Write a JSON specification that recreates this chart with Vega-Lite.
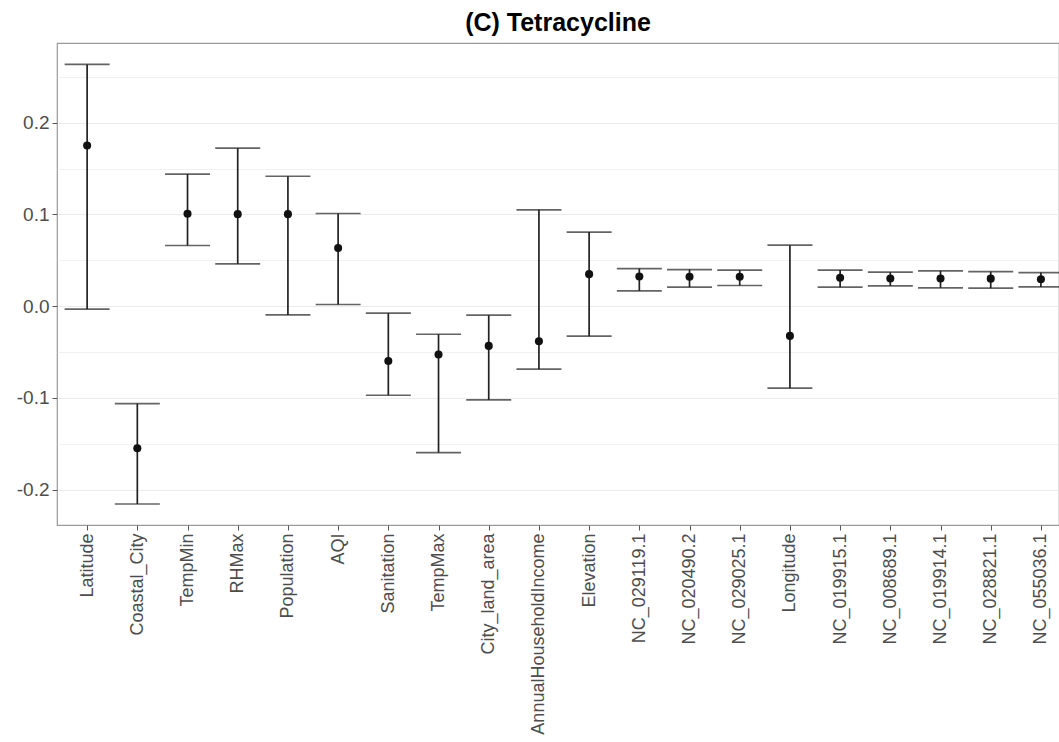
{
  "$schema": "https://vega.github.io/schema/vega-lite/v6.json",
  "autosize": {"type": "none"},
  "padding": {"left": 57, "top": 43, "right": 0, "bottom": 217},
  "width": 1002,
  "height": 482,
  "background": "white",
  "title": {
    "text": "(C) Tetracycline",
    "font": "Liberation Sans",
    "fontSize": 25,
    "fontWeight": "bold",
    "color": "#000000",
    "anchor": "middle",
    "offset": 7
  },
  "config": {
    "view": {"stroke": "#9a9a9a", "strokeWidth": 1.2},
    "axis": {
      "labelFont": "Liberation Sans",
      "labelFontSize": 19,
      "labelColor": "#4d4d4d",
      "labelLimit": 0,
      "tickColor": "#555555",
      "tickSize": 5,
      "domain": false,
      "title": null
    }
  },
  "data": {
    "values": [
      {"var": "Latitude", "est": 0.1751, "lo": -0.0033, "hi": 0.2635},
      {"var": "Coastal_City", "est": -0.1549, "lo": -0.2156, "hi": -0.1062},
      {"var": "TempMin", "est": 0.1007, "lo": 0.0661, "hi": 0.144},
      {"var": "RHMax", "est": 0.1003, "lo": 0.0461, "hi": 0.1723},
      {"var": "Population", "est": 0.1003, "lo": -0.0095, "hi": 0.1416},
      {"var": "AQI", "est": 0.0633, "lo": 0.0018, "hi": 0.101},
      {"var": "Sanitation", "est": -0.0597, "lo": -0.0971, "hi": -0.0076},
      {"var": "TempMax", "est": -0.0527, "lo": -0.1596, "hi": -0.0306},
      {"var": "City_land_area", "est": -0.0433, "lo": -0.1022, "hi": -0.0098},
      {"var": "AnnualHouseholdIncome", "est": -0.0382, "lo": -0.0687, "hi": 0.105},
      {"var": "Elevation", "est": 0.0349, "lo": -0.0327, "hi": 0.0807},
      {"var": "NC_029119.1", "est": 0.0323, "lo": 0.0167, "hi": 0.041},
      {"var": "NC_020490.2", "est": 0.032, "lo": 0.0207, "hi": 0.0399},
      {"var": "NC_029025.1", "est": 0.032, "lo": 0.0225, "hi": 0.0393},
      {"var": "Longitude", "est": -0.0324, "lo": -0.0894, "hi": 0.0665},
      {"var": "NC_019915.1", "est": 0.0309, "lo": 0.0207, "hi": 0.0393},
      {"var": "NC_008689.1", "est": 0.0301, "lo": 0.0221, "hi": 0.0371},
      {"var": "NC_019914.1", "est": 0.0301, "lo": 0.02, "hi": 0.0385},
      {"var": "NC_028821.1", "est": 0.03, "lo": 0.0196, "hi": 0.0377},
      {"var": "NC_055036.1", "est": 0.0294, "lo": 0.021, "hi": 0.0366}
    ]
  },
  "encoding": {
    "x": {
      "field": "var",
      "type": "nominal",
      "sort": null,
      "scale": {"type": "point", "padding": 0.48, "align": 0.625},
      "axis": {"labelAngle": -90, "labelPadding": 3, "labelFontSize": 18, "grid": false}
    }
  },
  "layer": [
    {
      "mark": {"type": "rule", "color": "#222222", "strokeWidth": 1.7},
      "encoding": {
        "y": {
          "field": "lo",
          "type": "quantitative",
          "scale": {"domain": [-0.2385, 0.2868], "nice": false, "zero": false},
          "axis": {
            "values": [-0.2, -0.15, -0.1, -0.05, 0, 0.05, 0.1, 0.15, 0.2, 0.25],
            "labelExpr": "round(datum.value*20)%2==0 ? replace(format(datum.value, '.1f'), '\u2212', '-') : ''",
            "tickOpacity": {"condition": {"test": "round(datum.value*20)%2==0", "value": 1}, "value": 0},
            "grid": true,
            "gridColor": "#ebebeb",
            "gridWidth": {"condition": {"test": "round(datum.value*20)%2==0", "value": 1.2}, "value": 0.7},
            "labelPadding": 3
          }
        },
        "y2": {"field": "hi"}
      }
    },
    {
      "mark": {"type": "tick", "color": "#222222", "thickness": 1.7, "size": 45, "orient": "horizontal"},
      "encoding": {"y": {"field": "hi", "type": "quantitative"}}
    },
    {
      "mark": {"type": "tick", "color": "#222222", "thickness": 1.7, "size": 45, "orient": "horizontal"},
      "encoding": {"y": {"field": "lo", "type": "quantitative"}}
    },
    {
      "mark": {"type": "point", "filled": true, "color": "#111111", "size": 65, "opacity": 1},
      "encoding": {"y": {"field": "est", "type": "quantitative"}}
    }
  ]
}
